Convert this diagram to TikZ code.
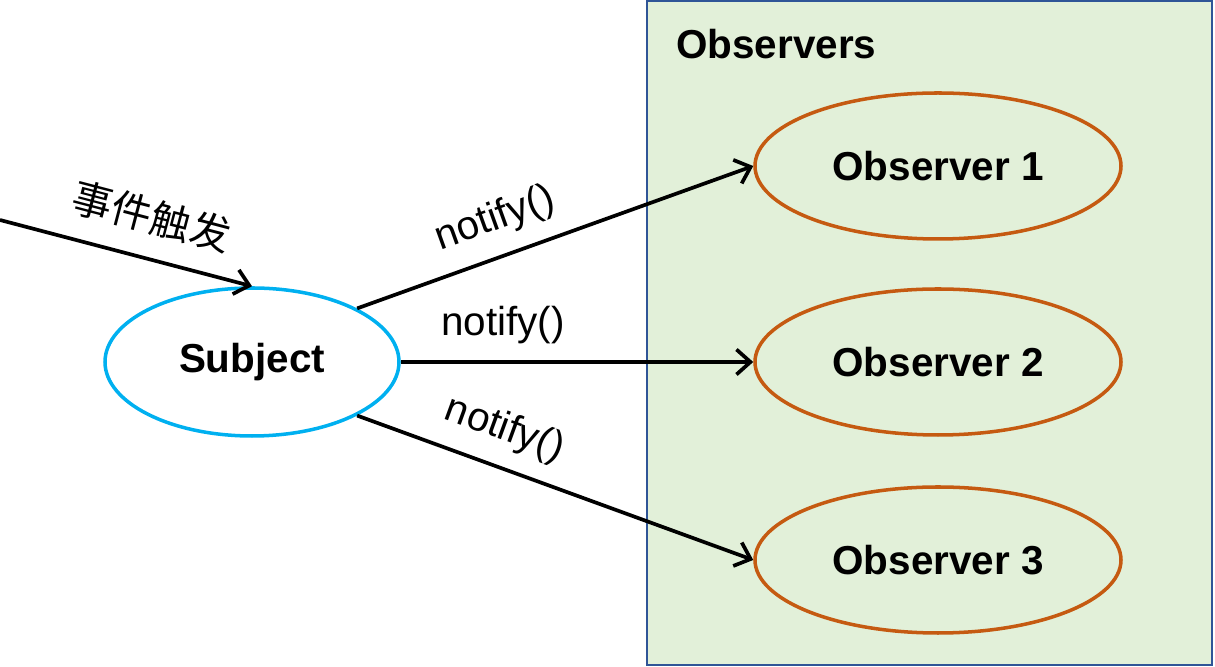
\documentclass[tikz,border=0pt]{standalone}
\usepackage{fontspec}
\setmainfont{Liberation Sans}
\newfontfamily\cjk{Noto Sans CJK SC}
\usetikzlibrary{positioning, shapes.geometric, arrows.meta}
\definecolor{boxgreen}{HTML}{E2F0D9}
\definecolor{boxblue}{HTML}{2F5597}
\definecolor{obsorange}{HTML}{C55A11}
\definecolor{subjcyan}{HTML}{00B0F0}
\begin{document}
\begin{tikzpicture}[font=\fontsize{23}{27}\selectfont,
    >={Straight Barb[length=2.8mm, width=5mm]},
    conn/.style={->, line width=2.1pt},
    obs/.style={draw=obsorange, ellipse, line width=2pt, minimum width=7.32cm, minimum height=2.92cm, font=\fontsize{23}{27}\selectfont\bfseries}]
    \useasboundingbox (0,0) rectangle (24.3,13.34);
    \node[draw=boxblue, fill=boxgreen, line width=1.1pt, minimum width=11.3cm, minimum height=13.28cm, outer sep=0pt] (observers) at (18.59,6.68) {};
    \node[anchor=west, font=\fontsize{23}{27}\selectfont\bfseries, inner sep=0pt] (title) at (13.52,12.46) {Observers};
    \node[draw=subjcyan, ellipse, line width=2pt, minimum width=5.88cm, minimum height=2.96cm, font=\fontsize{23}{27}\selectfont\bfseries] (subject) at (5.04,6.10) {Subject};
    \node[obs] (obs1) at (18.76,10.02) {Observer 1};
    \node[obs] (obs2) at (18.76,6.10) {Observer 2};
    \node[obs] (obs3) at (18.76,2.14) {Observer 3};
    \coordinate (event) at (0,8.94);
    \draw[conn] (event)--node[pos=0.56, sloped, above=9pt, font=\fontsize{23}{27}\selectfont\cjk]{事件触发}(subject.north);
    \draw[conn] (subject.27)--node[pos=0.38, sloped, above=6pt]{notify()}(obs1.west);
    \draw[conn] (subject.east)--node[pos=0.29, above=6pt]{notify()}(obs2.west);
    \draw[conn] (subject.-27)--node[pos=0.34, sloped, above=6pt]{notify()}(obs3.west);
\end{tikzpicture}
\end{document}
